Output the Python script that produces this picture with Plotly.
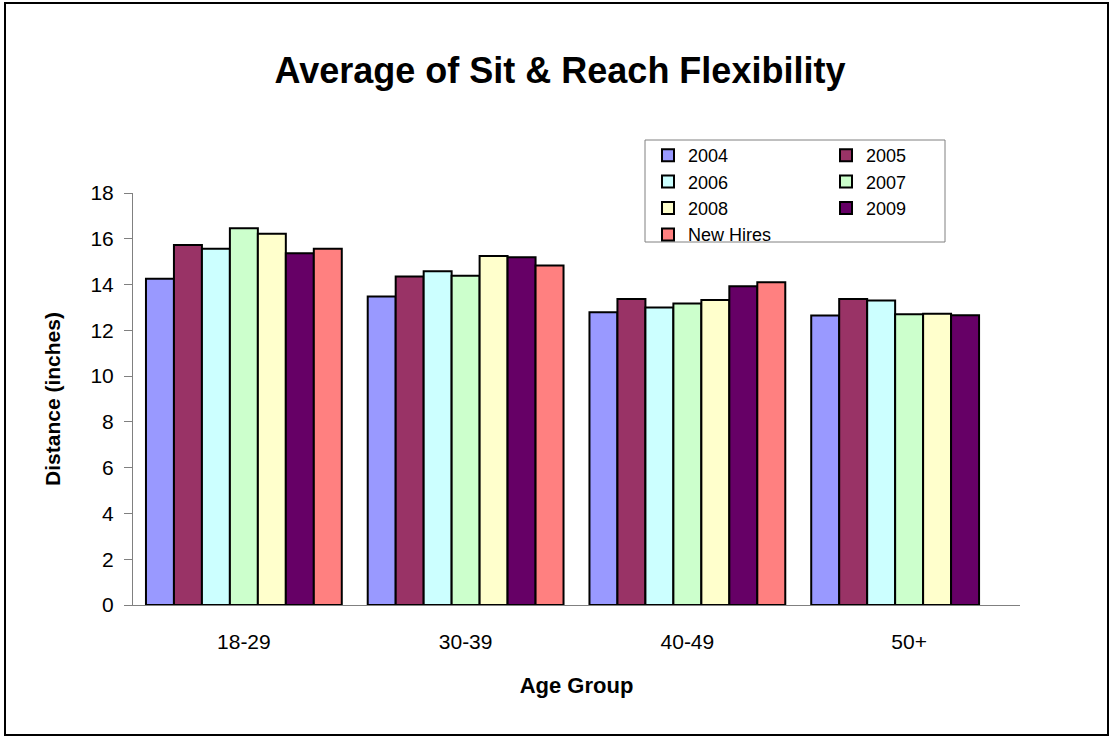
import plotly.graph_objects as go

age_groups = ["18-29", "30-39", "40-49", "50+"]

years_2004 = [14.25, 13.48, 12.79, 12.65]
years_2005 = [15.73, 14.35, 13.37, 13.37]
years_2006 = [15.56, 14.58, 13.00, 13.30]
years_2007 = [16.46, 14.39, 13.17, 12.70]
years_2008 = [16.22, 15.25, 13.33, 12.72]
years_2009 = [15.37, 15.19, 13.93, 12.66]
new_hires = [15.56, 14.83, 14.10, None]

# name -> (values, colour, which legend column)
series = {
    "2004": (years_2004, "#9999FF", "legend"),
    "2005": (years_2005, "#993366", "legend2"),
    "2006": (years_2006, "#CCFFFF", "legend"),
    "2007": (years_2007, "#CCFFCC", "legend2"),
    "2008": (years_2008, "#FFFFCC", "legend"),
    "2009": (years_2009, "#660066", "legend2"),
    "New Hires": (new_hires, "#FF8080", "legend"),
}

FONT = "Liberation Sans, Arial, sans-serif"

fig = go.Figure()
for name, (values, color, leg) in series.items():
    fig.add_trace(
        go.Bar(
            x=age_groups,
            y=values,
            name=name,
            legend=leg,
            marker=dict(color=color, line=dict(color="black", width=2)),
        )
    )

# plot area in pixels
left, right, top, bottom = 133, 94, 193, 133
pw, ph = 1114 - left - right, 738 - top - bottom


def px_x(x):
    return (x - left) / pw


def px_y(y):
    return (738 - bottom - y) / ph


legend_style = dict(
    orientation="v",
    yanchor="top",
    xanchor="left",
    font=dict(size=18, family=FONT),
    borderwidth=0,
    bgcolor="rgba(0,0,0,0)",
    traceorder="normal",
    itemwidth=30,
)

fig.update_layout(
    width=1114,
    height=738,
    margin=dict(l=left, r=right, t=top, b=bottom),
    paper_bgcolor="white",
    plot_bgcolor="white",
    barmode="group",
    bargap=0.117,
    bargroupgap=0,
    font=dict(family=FONT, color="black"),
    title=dict(
        text="<b>Average of Sit & Reach Flexibility</b>",
        font=dict(size=36, family=FONT),
        x=560 / 1114,
        xanchor="center",
        y=1 - 70 / 738,
        yanchor="middle",
    ),
    legend=dict(x=px_x(648), y=px_y(137), **legend_style),
    legend2=dict(x=px_x(826), y=px_y(137), **legend_style),
    shapes=[
        # outer chart frame
        dict(
            type="rect",
            xref="paper",
            yref="paper",
            x0=px_x(5),
            x1=px_x(1108),
            y0=px_y(735),
            y1=px_y(3),
            line=dict(color="black", width=2),
            layer="below",
        ),
        # legend box
        dict(
            type="rect",
            xref="paper",
            yref="paper",
            x0=px_x(645),
            x1=px_x(945),
            y0=px_y(242),
            y1=px_y(140),
            line=dict(color="#808080", width=1),
            fillcolor="white",
            layer="below",
        ),
    ],
)

fig.update_xaxes(
    showline=True,
    linecolor="#808080",
    linewidth=1,
    ticks="",
    showgrid=False,
    tickfont=dict(size=21, family=FONT),
    ticklabelstandoff=18,
    title=dict(text="<b>Age Group</b>", font=dict(size=22, family=FONT), standoff=25),
)
fig.update_yaxes(
    range=[0, 18],
    dtick=2,
    showline=True,
    linecolor="#808080",
    linewidth=1,
    ticks="outside",
    ticklen=8,
    tickcolor="#808080",
    showgrid=False,
    zeroline=False,
    tickfont=dict(size=21, family=FONT),
    ticklabelstandoff=6,
    title=dict(text="<b>Distance (inches)</b>", font=dict(size=21, family=FONT), standoff=24),
)

fig.write_html(
    "out.html",
    config={"displayModeBar": False},
    post_script="document.body.style.margin='0';",
)
